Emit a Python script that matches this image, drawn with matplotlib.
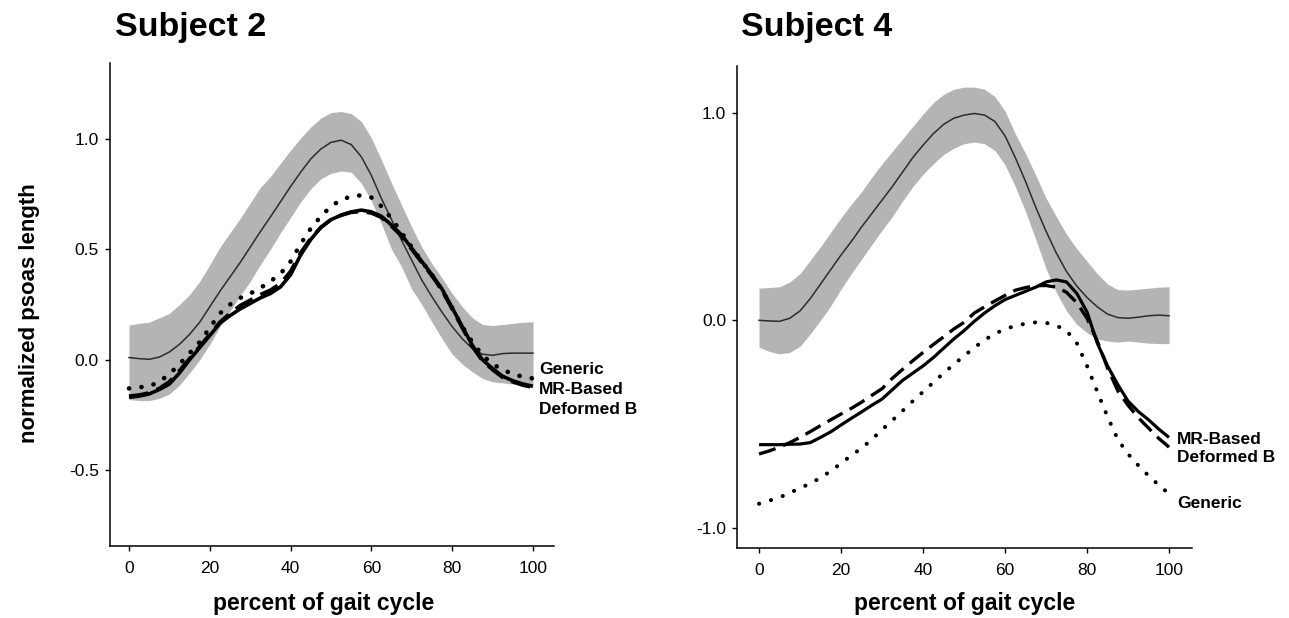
import matplotlib
matplotlib.use("Agg")
import matplotlib.pyplot as plt

plt.rcParams['font.family'] = ['Liberation Sans', 'DejaVu Sans']
plt.rcParams['axes.unicode_minus'] = False

# ---------------- data ----------------
gait_pct = [0, 2.5, 5, 7.5, 10, 12.5, 15, 17.5, 20, 22.5, 25, 27.5, 30, 32.5, 35, 37.5,
            40, 42.5, 45, 47.5, 50, 52.5, 55, 57.5, 60, 62.5, 65, 67.5, 70, 72.5, 75,
            77.5, 80, 82.5, 85, 87.5, 90, 92.5, 95, 97.5, 100]

# Subject 2
s2_mean = [0.01, 0.005, 0.002, 0.012, 0.035, 0.07, 0.115, 0.17, 0.24, 0.31, 0.375, 0.44,
           0.51, 0.58, 0.647, 0.716, 0.785, 0.85, 0.91, 0.955, 0.985, 0.995, 0.975, 0.92,
           0.835, 0.73, 0.635, 0.54, 0.45, 0.36, 0.285, 0.215, 0.15, 0.095, 0.05, 0.025,
           0.02, 0.028, 0.03, 0.03, 0.03]
s2_upper = [0.157, 0.165, 0.17, 0.19, 0.21, 0.25, 0.295, 0.355, 0.43, 0.51, 0.575, 0.64,
            0.71, 0.78, 0.83, 0.89, 0.95, 1.005, 1.055, 1.095, 1.12, 1.125, 1.115, 1.08,
            1.005, 0.905, 0.80, 0.70, 0.60, 0.51, 0.435, 0.37, 0.30, 0.24, 0.19, 0.16,
            0.155, 0.16, 0.165, 0.17, 0.172]
s2_lower = [-0.18, -0.185, -0.185, -0.175, -0.155, -0.115, -0.06, 0.0, 0.07, 0.15, 0.22,
            0.29, 0.355, 0.43, 0.50, 0.575, 0.645, 0.715, 0.775, 0.82, 0.845, 0.855, 0.85,
            0.80, 0.72, 0.615, 0.50, 0.42, 0.32, 0.25, 0.17, 0.095, 0.025, -0.02, -0.055,
            -0.085, -0.10, -0.105, -0.11, -0.11, -0.11]
s2_generic = [-0.13, -0.125, -0.12, -0.10, -0.065, -0.02, 0.03, 0.08, 0.145, 0.21, 0.25,
              0.28, 0.30, 0.325, 0.355, 0.39, 0.445, 0.525, 0.595, 0.65, 0.695, 0.725,
              0.74, 0.745, 0.735, 0.695, 0.64, 0.575, 0.51, 0.445, 0.385, 0.315, 0.235,
              0.15, 0.08, 0.02, -0.02, -0.045, -0.065, -0.077, -0.085]
s2_mr = [-0.17, -0.165, -0.155, -0.135, -0.11, -0.06, 0.0, 0.055, 0.11, 0.165, 0.20, 0.23,
         0.255, 0.28, 0.30, 0.33, 0.385, 0.475, 0.545, 0.60, 0.635, 0.655, 0.67, 0.678,
         0.67, 0.65, 0.61, 0.565, 0.505, 0.445, 0.385, 0.32, 0.235, 0.15, 0.065, 0.0,
         -0.04, -0.075, -0.095, -0.11, -0.12]
s2_deformed = [-0.165, -0.16, -0.15, -0.13, -0.10, -0.05, 0.005, 0.06, 0.115, 0.17, 0.21,
               0.245, 0.27, 0.295, 0.315, 0.345, 0.40, 0.485, 0.55, 0.60, 0.635, 0.655,
               0.668, 0.672, 0.665, 0.645, 0.605, 0.56, 0.50, 0.44, 0.38, 0.315, 0.23,
               0.145, 0.06, -0.005, -0.045, -0.08, -0.10, -0.115, -0.125]

# Subject 4
s4_mean = [0.0, -0.003, -0.005, 0.01, 0.045, 0.105, 0.175, 0.245, 0.315, 0.38, 0.45, 0.515,
           0.58, 0.645, 0.715, 0.785, 0.845, 0.90, 0.945, 0.975, 0.99, 0.998, 0.99, 0.96,
           0.89, 0.785, 0.67, 0.545, 0.43, 0.325, 0.235, 0.165, 0.11, 0.065, 0.03, 0.013,
           0.01, 0.015, 0.022, 0.025, 0.022]
s4_upper = [0.155, 0.158, 0.162, 0.185, 0.225, 0.29, 0.355, 0.425, 0.495, 0.56, 0.62, 0.69,
            0.755, 0.815, 0.875, 0.935, 0.995, 1.05, 1.09, 1.115, 1.125, 1.125, 1.115,
            1.08, 1.01, 0.90, 0.805, 0.70, 0.59, 0.50, 0.415, 0.345, 0.285, 0.225, 0.175,
            0.148, 0.146, 0.15, 0.155, 0.16, 0.162]
s4_lower = [-0.13, -0.15, -0.162, -0.155, -0.125, -0.065, 0.0, 0.07, 0.15, 0.225, 0.295,
            0.365, 0.435, 0.50, 0.575, 0.645, 0.705, 0.755, 0.80, 0.83, 0.852, 0.86, 0.852,
            0.82, 0.75, 0.645, 0.525, 0.39, 0.25, 0.135, 0.045, -0.02, -0.06, -0.09, -0.10,
            -0.105, -0.10, -0.105, -0.11, -0.112, -0.113]
s4_generic = [-0.885, -0.87, -0.855, -0.832, -0.81, -0.787, -0.76, -0.727, -0.69, -0.652,
              -0.617, -0.575, -0.528, -0.483, -0.437, -0.39, -0.345, -0.30, -0.255, -0.213,
              -0.172, -0.132, -0.095, -0.065, -0.042, -0.027, -0.016, -0.01, -0.012, -0.025,
              -0.05, -0.11, -0.22, -0.345, -0.465, -0.575, -0.645, -0.70, -0.75, -0.795,
              -0.837]
s4_mr = [-0.60, -0.60, -0.60, -0.598, -0.597, -0.59, -0.565, -0.538, -0.505, -0.473, -0.442,
         -0.41, -0.38, -0.335, -0.29, -0.255, -0.22, -0.18, -0.135, -0.09, -0.05, -0.005,
         0.035, 0.07, 0.10, 0.12, 0.14, 0.16, 0.185, 0.195, 0.185, 0.13, 0.04, -0.11,
         -0.22, -0.31, -0.39, -0.44, -0.48, -0.525, -0.565]
s4_deformed = [-0.645, -0.63, -0.612, -0.59, -0.565, -0.537, -0.508, -0.48, -0.452, -0.425,
               -0.395, -0.362, -0.33, -0.28, -0.237, -0.195, -0.155, -0.117, -0.08, -0.042,
               -0.01, 0.035, 0.065, 0.093, 0.12, 0.145, 0.158, 0.167, 0.168, 0.16, 0.135,
               0.085, 0.01, -0.10, -0.23, -0.34, -0.41, -0.47, -0.52, -0.57, -0.612]

x_ticks = [0, 20, 40, 60, 80, 100]
s2_yticks = [-0.5, 0.0, 0.5, 1.0]
s4_yticks = [-1.0, 0.0, 1.0]
titles = ["Subject 2", "Subject 4"]
xlabel = "percent of gait cycle"
ylabel = "normalized psoas length"

# ---------------- figure ----------------
W, H = 1289, 618
fig = plt.figure(figsize=(W / 100, H / 100), dpi=100, facecolor='white')

def fx(px):
    return px / W

def fy(py):
    return 1 - py / H

ax1 = fig.add_axes([fx(110), fy(546), fx(554) - fx(110), fy(62.7) - fy(546)])
ax2 = fig.add_axes([fx(737.3), fy(548.3), fx(1192) - fx(737.3), fy(66) - fy(548.3)])

band_color = '#b4b4b4'
mean_color = '#2b2b2b'


def draw(ax, mean, upper, lower, generic, mr, deformed, yticks, ylim, xlim,
         line_w, dot_w):
    ax.fill_between(gait_pct, lower, upper, color=band_color, lw=0, zorder=1)
    ax.plot(gait_pct, mean, color=mean_color, lw=1.1, zorder=2)
    ax.plot(gait_pct, mr, color='black', lw=line_w, zorder=3, solid_capstyle='butt',
            solid_joinstyle='round')
    ax.plot(gait_pct, deformed, color='black', lw=line_w + 0.1, zorder=3,
            linestyle=(0, (5.2, 2.4)), dash_capstyle='butt')
    ax.plot(gait_pct, generic, color='black', lw=dot_w, zorder=4,
            linestyle=(0, (0.05, 8.8 / dot_w)), dash_capstyle='round')
    ax.set_xlim(*xlim)
    ax.set_ylim(*ylim)
    ax.set_xticks(x_ticks)
    ax.set_xticklabels([str(t) for t in x_ticks])
    ax.set_yticks(yticks)
    ax.set_yticklabels(["%.1f" % t for t in yticks])
    for s in ['top', 'right']:
        ax.spines[s].set_visible(False)
    for s in ['left', 'bottom']:
        ax.spines[s].set_linewidth(1.1)
    ax.tick_params(axis='both', direction='out', length=3.6, width=1.0,
                   labelsize=12.5, colors='black')
    ax.tick_params(axis='x', pad=7)
    ax.tick_params(axis='y', pad=4.5)
    ax.set_facecolor('white')


draw(ax1, s2_mean, s2_upper, s2_lower, s2_generic, s2_mr, s2_deformed,
     s2_yticks, (-0.844, 1.346), (-4.7, 105.2), 2.6, 3.3)
draw(ax2, s4_mean, s4_upper, s4_lower, s4_generic, s4_mr, s4_deformed,
     s4_yticks, (-1.10, 1.227), (-5.3, 105.6), 2.3, 2.9)

# titles
fig.text(fx(115), fy(36), titles[0], fontsize=24.5, fontweight='bold',
         ha='left', va='baseline')
fig.text(fx(741), fy(36), titles[1], fontsize=24.5, fontweight='bold',
         ha='left', va='baseline')

# axis labels
fig.text(fx(324), fy(610), xlabel, fontsize=16.5, fontweight='bold',
         ha='center', va='baseline')
fig.text(fx(965), fy(610), xlabel, fontsize=16.5, fontweight='bold',
         ha='center', va='baseline')
fig.text(fx(30), fy(313), ylabel, fontsize=16, fontweight='bold',
         ha='center', va='center', rotation=90)

# line annotations
ann_kw = dict(fontsize=12.5, fontweight='bold', ha='left', va='center')
fig.text(fx(539), fy(369), "Generic", **ann_kw)
fig.text(fx(539), fy(390), "MR-Based", **ann_kw)
fig.text(fx(539), fy(409), "Deformed B", **ann_kw)
fig.text(fx(1177), fy(439), "MR-Based", **ann_kw)
fig.text(fx(1177), fy(457), "Deformed B", **ann_kw)
fig.text(fx(1177), fy(504), "Generic", **ann_kw)

fig.savefig("out.png", dpi=100, facecolor='white')
